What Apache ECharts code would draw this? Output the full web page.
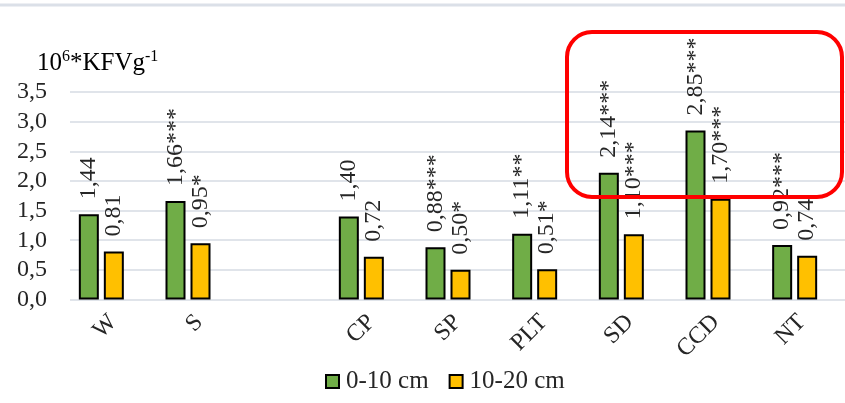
<!DOCTYPE html>
<html><head><meta charset="utf-8">
<script src="https://cdn.jsdelivr.net/npm/echarts@6/dist/echarts.min.js"></script>
<style>html,body{margin:0;padding:0;background:#fff}#c{width:845px;height:403px}</style>
</head><body><div id="c"></div>
<script>
var categories = ['W', 'S', '', 'CP', 'SP', 'PLT', 'SD', 'CCD', 'NT'];
var seriesNames = ['0-10 cm', '10-20 cm'];
var values0_10 = [1.44, 1.66, null, 1.40, 0.88, 1.11, 2.14, 2.85, 0.92];
var values10_20 = [0.81, 0.95, null, 0.72, 0.50, 0.51, 1.10, 1.70, 0.74];
var stars0_10 = ['', '***', '', '', '***', '**', '***', '***', '***'];
var stars10_20 = ['', '*', '', '', '*', '*', '***', '***', ''];
var yTicks = ['0,0', '0,5', '1,0', '1,5', '2,0', '2,5', '3,0', '3,5'];

var FONT = 'Liberation Serif';
var TXT = '#262626';
function fmt(stars) {
  return function (p) {
    if (p.value == null) return '';
    return p.value.toFixed(2).replace('.', ',') + stars[p.dataIndex];
  };
}
function labelCfg(stars) {
  return {
    show: true, position: 'top', rotate: 90, align: 'left', verticalAlign: 'middle',
    distance: 15, fontFamily: FONT, fontSize: 24, color: TXT, formatter: fmt(stars)
  };
}
var chart = echarts.init(document.getElementById('c'));
chart.setOption({
  animation: false,
  grid: [
    { left: 58, right: 7, top: 92, bottom: 103.5 },
    { left: 70, right: 0, top: 92, bottom: 103.5 },
    { left: 70, right: -5, top: 92, bottom: 103.5 }
  ],
  legend: {
    data: seriesNames, bottom: 4, left: 320, itemWidth: 13, itemHeight: 13, itemGap: 20,
    icon: 'rect',
    textStyle: { fontFamily: FONT, fontSize: 25, color: TXT, padding: [0, 0, 0, 2] }
  },
  xAxis: [
    { type: 'category', gridIndex: 0, data: categories,
      axisLine: { show: false }, axisTick: { show: false }, axisLabel: { show: false } },
    { type: 'value', gridIndex: 1, show: false, min: 0, max: 1 },
    { type: 'category', gridIndex: 2, data: categories,
      axisLine: { show: false }, axisTick: { show: false },
      axisLabel: { rotate: 45, fontFamily: FONT, fontSize: 24, color: TXT, margin: 19, interval: 0 } }
  ],
  yAxis: [
    { type: 'value', gridIndex: 0, min: 0, max: 3.5, interval: 0.5,
      axisLine: { show: false }, axisTick: { show: false }, splitLine: { show: false },
      axisLabel: { fontFamily: FONT, fontSize: 24, color: TXT, margin: 11,
        formatter: function (v) { return yTicks[Math.round(v / 0.5)]; } } },
    { type: 'value', gridIndex: 1, min: 0, max: 3.5, interval: 0.5,
      axisLine: { show: false }, axisTick: { show: false }, axisLabel: { show: false },
      splitLine: { show: true, lineStyle: { color: '#d6dbe3', width: 1.5 } } },
    { type: 'value', gridIndex: 2, show: false, min: 0, max: 3.5 }
  ],
  series: [
    { name: seriesNames[0], type: 'bar', data: values0_10, barWidth: 20, barGap: '25%',
      itemStyle: { color: '#70ad47', borderColor: '#000', borderWidth: 2 },
      label: labelCfg(stars0_10), z: 3 },
    { name: seriesNames[1], type: 'bar', data: values10_20, barWidth: 20, barGap: '25%',
      itemStyle: { color: '#ffc000', borderColor: '#000', borderWidth: 2 },
      label: labelCfg(stars10_20), z: 3 }
  ],
  graphic: [
    { type: 'line', shape: { x1: 0, y1: 5, x2: 845, y2: 5 },
      style: { stroke: '#dbe0e8', lineWidth: 3 }, z: 1 },
    { type: 'text', left: 37, top: 49,
      style: {
        text: '{a|10}{s|6}{a|*KFVg}{s|-1}',
        rich: {
          a: { fontFamily: FONT, fontSize: 25, color: TXT, lineHeight: 27, verticalAlign: 'bottom' },
          s: { fontFamily: FONT, fontSize: 16, color: TXT, lineHeight: 27, verticalAlign: 'top' }
        }
      } },
    { type: 'rect', shape: { x: 567, y: 32, width: 275, height: 165, r: 25 },
      style: { fill: 'none', stroke: '#ff0000', lineWidth: 4 }, z: 100 }
  ]
});
</script></body></html>
